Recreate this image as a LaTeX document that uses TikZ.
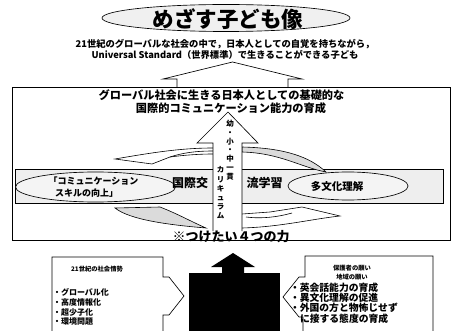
\documentclass[tikz,border=0pt]{standalone}
\usepackage{fontspec}
\setmainfont{Noto Sans CJK JP}
\usetikzlibrary{shapes.geometric}
\begin{document}
\begin{tikzpicture}[x=1pt,y=-1pt,
  outl/.style={draw=black,line width=0.65pt},
  thin/.style={draw=black,line width=0.6pt},
  speck/.style={fill=gray!28},
  jb/.style={inner sep=0pt,outer sep=0pt,font=\bfseries\fontsize{#1}{#1}\selectfont},
  vcol/.style={inner sep=0pt,outer sep=0pt,align=center,font=\bfseries\fontsize{7.5}{#1}\selectfont},
]
\useasboundingbox[fill=white] (0,0) rectangle (452,331);

% ---- top title ----
\node[ellipse,outl,fill=gray!12,minimum width=248pt,minimum height=27pt,inner sep=0pt] (titleell) at (226,18) {};
\node[jb=21.5] (title) at (228,19) {めざす子ども像};
\node[jb=9.3] (sub1) at (225,44) {21世紀のグローバルな社会の中で，日本人としての自覚を持ちながら，};
\node[jb=9.3] (sub2) at (225,54.5) {Universal Standard（世界標準）で生きることができる子ども};

% ---- big upward arrow into subtitle ----
\draw[outl] (177,87) -- (177,79) -- (163,79) -- (232.5,62) -- (302,79) -- (288,79) -- (288,87);

% ---- main box ----
\draw[outl,fill=white] (12,87) rectangle (450.5,240);
\node[jb=11.2] (boxt1) at (221.5,95) {グローバル社会に生きる日本人としての基礎的な};
\node[jb=11.2] (boxt2) at (231,108) {国際的コミュニケーション能力の育成};

% ---- band ----
\draw[outl,fill=gray!13] (15,169) rectangle (443,203);
\node[ellipse,outl,fill=gray!9,minimum width=160pt,minimum height=30pt,inner sep=0pt] (ellL) at (95.5,187) {};
\node[ellipse,outl,fill=gray!9,minimum width=120pt,minimum height=28pt,inner sep=0pt] (ellR) at (348,186) {};
\node[jb=9,anchor=west] (comm1) at (48.5,181.5) {「コミュニケーション};
\node[jb=9,anchor=west] (comm2) at (55,193) {スキルの向上」};
\node[jb=10.5] (tabunka) at (337,187) {多文化理解};
\node[jb=12] (koku) at (190,183) {国際交};
\node[jb=12] (ryu) at (264.5,183) {流学習};

% ---- swooshes ----
\draw[thin,fill=white] (213,148) .. controls (180,148) and (150,153) .. (115,159)
  -- (152,164) -- (170,157) .. controls (185,155) and (200,154) .. (213,154);
\draw[thin] (213,151) .. controls (195,151) and (182,153) .. (170,157);
\draw[thin,speck] (242,147) .. controls (285,148) and (310,157) .. (326,172)
  .. controls (300,167) and (280,153) .. (242,152) -- cycle;
\draw[thin,speck] (115,208) -- (160,207) .. controls (178,214) and (192,222) .. (206,228)
  .. controls (170,225) and (130,220) .. (115,208) -- cycle;
\draw[thin,fill=white] (242,214) -- (270,212) -- (302,207) -- (340,216)
  .. controls (312,219) and (280,227) .. (242,228);
\draw[thin] (246,217) .. controls (262,219) and (278,217) .. (292,213);

% ---- central vertical arrow ----
\fill[white] (228,112) -- (258,143) -- (242,143) -- (242,231) -- (213,231) -- (213,143) -- (197,143) -- cycle;
\draw[outl] (213,231) -- (213,143) -- (197,143) -- (228,112) -- (258,143) -- (242,143) -- (242,231);
\node[vcol=8.8] (kanji) at (230,150) {幼\\・\\小\\・\\中\\一\\貫};
\node[vcol=9.2] (kana) at (220.5,193) {カ\\リ\\キ\\ュ\\ラ\\ム};
\node[jb=13] (chikara) at (231,236.5) {※つけたい４つの力};

% ---- bottom ----
\fill[black] (189,273) rectangle (280,331);
\fill[black] (233,253) -- (255,267) -- (244,267) -- (244,273) -- (222,273) -- (222,267) -- (211,267) -- cycle;

\draw[outl] (52,331) -- (52,257) -- (163,257) -- (163,277) -- (169,277) -- (184,296) -- (169,315) -- (163,315) -- (163,331);
\node[jb=6.3] (lhead) at (97,269) {21世紀の社会情勢};
\node[jb=8,anchor=west] (l1) at (53,292) {・グローバル化};
\node[jb=8,anchor=west] (l2) at (53,302) {・高度情報化};
\node[jb=8,anchor=west] (l3) at (53,312) {・超少子化};
\node[jb=8,anchor=west] (l4) at (53,321.5) {・環境問題};

\draw[outl] (433,331) -- (433,256) -- (305,256) -- (305,277) -- (299,277) -- (283,297) -- (299,317) -- (303,317) -- (303,331);
\node[jb=6.3] (rhead1) at (352,268) {保護者の願い};
\node[jb=6.3] (rhead2) at (352,277) {地域の願い};
\node[jb=9.8,anchor=west] (r1) at (290,287.5) {・英会話能力の育成};
\node[jb=9.8,anchor=west] (r2) at (290,297.5) {・異文化理解の促進};
\node[jb=9.8,anchor=west] (r3) at (290,308) {・外国の方と物怖じせず};
\node[jb=9.8,anchor=west] (r4) at (300,318.5) {に接する態度の育成};
\end{tikzpicture}
\end{document}
